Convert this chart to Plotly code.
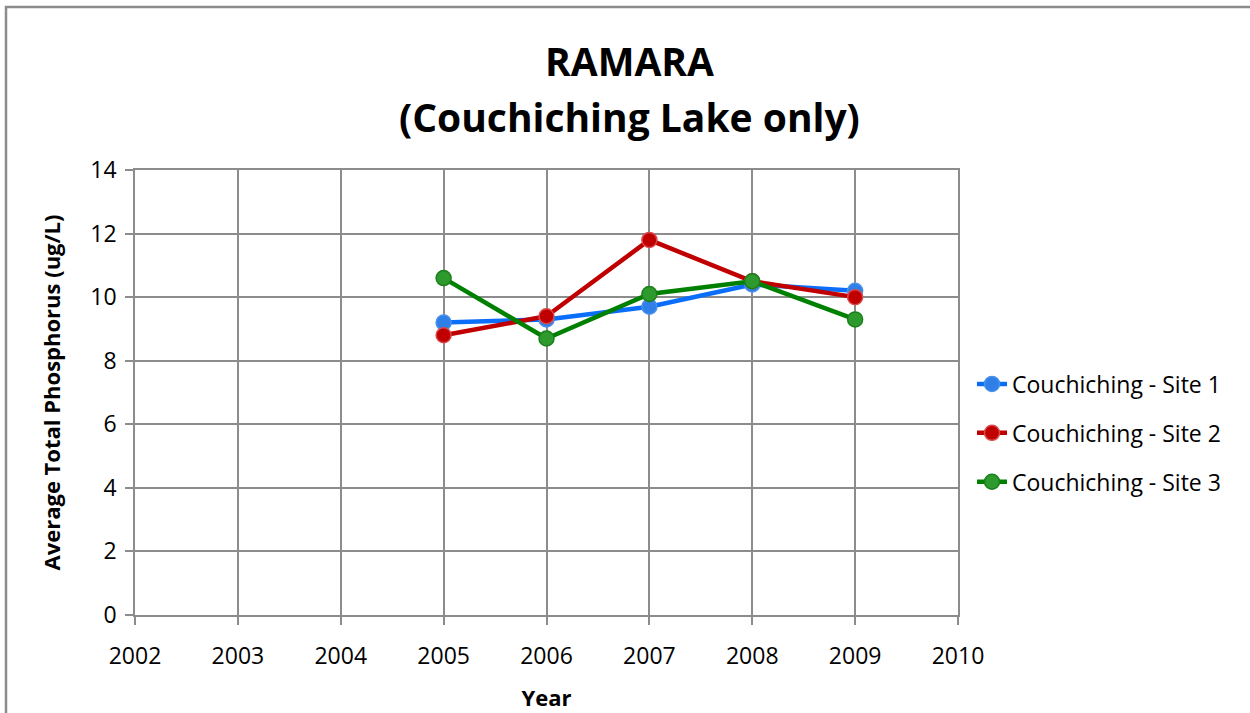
import plotly.graph_objects as go

years = [2005, 2006, 2007, 2008, 2009]
site1 = [9.2, 9.3, 9.7, 10.4, 10.2]
site2 = [8.8, 9.4, 11.8, 10.5, 10.0]
site3 = [10.6, 8.7, 10.1, 10.5, 9.3]
names = ["Couchiching - Site 1", "Couchiching - Site 2", "Couchiching - Site 3"]
x_ticks = [2002, 2003, 2004, 2005, 2006, 2007, 2008, 2009, 2010]
y_ticks = [0, 2, 4, 6, 8, 10, 12, 14]
title_lines = ["RAMARA", "(Couchiching Lake only)"]

line_colors = ["#0A6EFA", "#C00000", "#008000"]
marker_fill = ["#2F7FE8", "#C00000", "#2E9A2E"]
marker_edge = ["#4A8FE8", "#D9484B", "#1B7F1B"]

FONT = "'Open Sans', Lato, sans-serif"

fig = go.Figure()
for i, ys in enumerate([site1, site2, site3]):
    fig.add_trace(go.Scatter(
        x=years, y=ys, name=names[i], mode="lines+markers",
        legendgroup=f"g{i}",
        line=dict(color=line_colors[i], width=4.5),
        marker=dict(size=15, color=marker_fill[i], line=dict(color=marker_edge[i], width=1.5)),
    ))

PL, PT, PW, PH = 135, 170, 823, 445

def py(y):
    return (PT + PH - y) / PH

def px(x):
    return (x - PL) / PW

fig.update_layout(
    width=1250, height=713,
    paper_bgcolor="white", plot_bgcolor="white",
    margin=dict(l=PL, r=1250 - PL - PW, t=PT, b=713 - PT - PH, autoexpand=False),
    font=dict(family=FONT, color="#000000", size=23),
    showlegend=True,
    legend=dict(
        x=px(972), xanchor="left", y=py(433), yanchor="middle",
        font=dict(family=FONT, size=23, color="#000000"),
        tracegroupgap=16, bgcolor="rgba(0,0,0,0)",
    ),
    xaxis=dict(
        range=[2002, 2010], tickvals=x_ticks, ticktext=[str(v) for v in x_ticks],
        showgrid=True, gridcolor="#8C8C8C", gridwidth=1.5,
        showline=True, linecolor="#8C8C8C", linewidth=1.5, mirror=True,
        ticks="outside", ticklen=8, tickcolor="#8C8C8C", tickwidth=1.5,
        ticklabelstandoff=12, automargin=False,
        zeroline=False,
        tickfont=dict(size=23),
        title=dict(text="<b>Year</b>", font=dict(size=22), standoff=20),
    ),
    yaxis=dict(
        range=[0, 14], tickvals=y_ticks,
        showgrid=True, gridcolor="#8C8C8C", gridwidth=1.5,
        showline=True, linecolor="#8C8C8C", linewidth=1.5, mirror=True,
        ticks="outside", ticklen=8, tickcolor="#8C8C8C", tickwidth=1.5,
        ticklabelstandoff=4, automargin=False,
        zeroline=False,
        tickfont=dict(size=23),
        title=dict(text="<b>Average Total Phosphorus (ug/L)</b>", font=dict(size=22), standoff=24),
    ),
    annotations=[
        dict(text=f"<b>{title_lines[0]}</b>", xref="paper", yref="paper",
             x=px(629), y=py(61), xanchor="center", yanchor="middle", showarrow=False,
             font=dict(family=FONT, size=39, color="#000000")),
        dict(text=f"<b>{title_lines[1]}</b>", xref="paper", yref="paper",
             x=px(629), y=py(116), xanchor="center", yanchor="middle", showarrow=False,
             font=dict(family=FONT, size=39, color="#000000")),
    ],
    shapes=[dict(type="rect", xref="paper", yref="paper",
                 x0=px(6), x1=px(1256), y0=py(720), y1=py(7),
                 line=dict(color="#8C8C8C", width=2.5), fillcolor="rgba(0,0,0,0)", layer="below")],
)

fig.write_html("out.html", config={"displayModeBar": False},
               post_script="document.body.style.margin='0';")
